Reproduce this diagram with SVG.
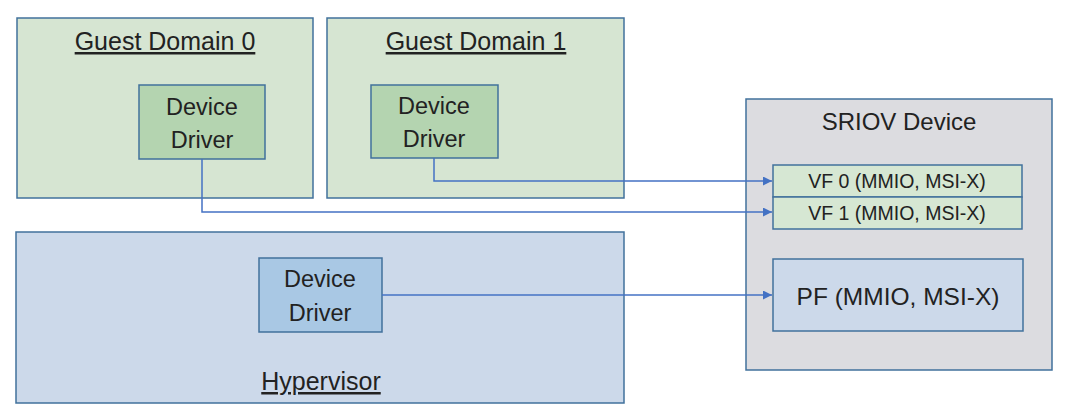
<svg xmlns="http://www.w3.org/2000/svg" width="1068" height="416" viewBox="0 0 1068 416">
<defs>
<style>
.box{stroke:#41719c;stroke-width:1.5}
.gd{fill:#d6e5d2}
.gdd{fill:#b4d4b0}
.hv{fill:#ccd9ea}
.hdd{fill:#a9c8e4}
.sr{fill:#dcdce0}
.vf{fill:#d6e7d3}
.t{font-family:"Liberation Sans",Arial,sans-serif;fill:#222;text-anchor:middle}
.title{font-size:25px;text-decoration:underline}
.dd{font-size:23.5px}
.vft{font-size:19.5px}
.conn{fill:none;stroke:#4472c4;stroke-width:1.5;marker-end:url(#arr)}
</style>
<marker id="arr" viewBox="0 0 10 10" refX="10" refY="5" markerWidth="6" markerHeight="6" orient="auto" markerUnits="strokeWidth">
<path d="M0,0 L10,5 L0,10 z" fill="#4472c4"/>
</marker>
</defs>
<rect width="1068" height="416" fill="#ffffff"/>

<g id="guest0">
<rect class="box gd" x="17" y="18" width="296" height="180"/>
<text class="t title" x="165" y="50">Guest Domain 0</text>
</g>
<g id="guest0-driver">
<rect class="box gdd" x="139" y="85" width="126" height="74"/>
<text class="t dd" x="202" y="115">Device</text>
<text class="t dd" x="202" y="148">Driver</text>
</g>

<g id="guest1">
<rect class="box gd" x="327" y="18" width="297" height="180"/>
<text class="t title" x="476" y="50">Guest Domain 1</text>
</g>
<g id="guest1-driver">
<rect class="box gdd" x="371" y="85" width="127" height="73"/>
<text class="t dd" x="434" y="114">Device</text>
<text class="t dd" x="434" y="147">Driver</text>
</g>

<g id="hypervisor">
<rect class="box hv" x="16" y="232" width="608" height="171"/>
<text class="t title" x="321" y="390">Hypervisor</text>
</g>
<g id="hyp-driver">
<rect class="box hdd" x="259" y="258" width="123" height="74"/>
<text class="t dd" x="320" y="287">Device</text>
<text class="t dd" x="320" y="321">Driver</text>
</g>

<g id="sriov">
<rect class="box sr" x="746" y="99" width="306" height="271"/>
<text class="t" style="font-size:24px" x="899" y="130">SRIOV Device</text>
</g>
<g id="vf0">
<rect class="box vf" x="773" y="165" width="249" height="32"/>
<text class="t vft" x="897" y="188">VF 0 (MMIO, MSI-X)</text>
</g>
<g id="vf1">
<rect class="box vf" x="773" y="197" width="249" height="32"/>
<text class="t vft" x="897" y="220">VF 1 (MMIO, MSI-X)</text>
</g>
<g id="pf">
<rect class="box hv" x="773" y="259" width="250" height="72"/>
<text class="t" style="font-size:24.5px" x="898" y="305">PF (MMIO, MSI-X)</text>
</g>

<g id="connectors">
<path class="conn" d="M434,158 V181 H772"/>
<path class="conn" d="M202,159 V212 H772"/>
<path class="conn" d="M382,295 H772"/>
</g>
</svg>
